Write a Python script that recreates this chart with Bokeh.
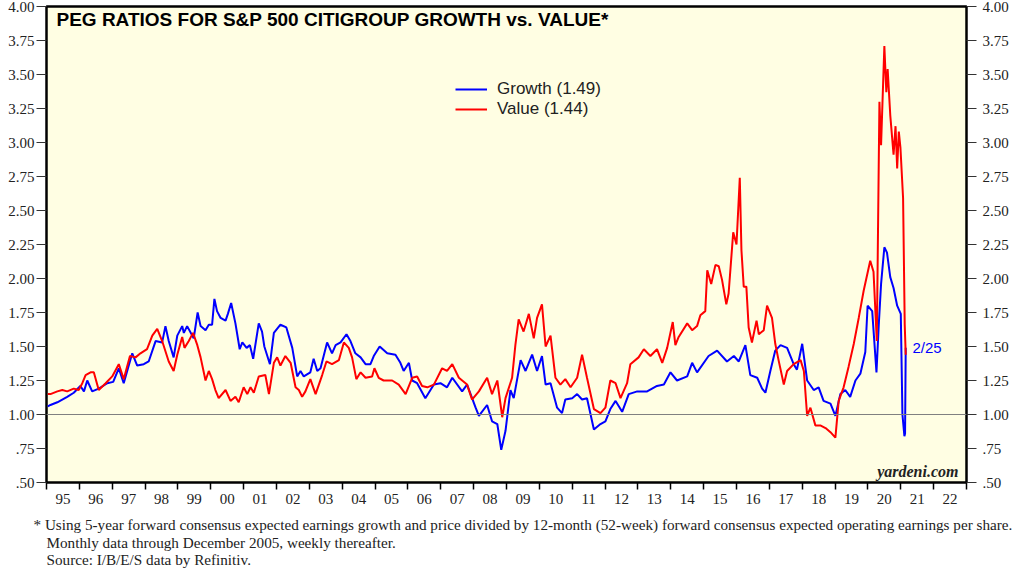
from bokeh.plotting import figure
from bokeh.models import FixedTicker, LinearAxis, Range1d, Span, Label, Legend, LegendItem, Title
from bokeh.embed import file_html
from bokeh.resources import INLINE

# ---------------- data ----------------
years = list(range(1995, 2023))
year_labels = ["95", "96", "97", "98", "99", "00", "01", "02", "03", "04", "05", "06", "07", "08",
               "09", "10", "11", "12", "13", "14", "15", "16", "17", "18", "19", "20", "21", "22"]
y_ticks = [0.5, 0.75, 1.0, 1.25, 1.5, 1.75, 2.0, 2.25, 2.5, 2.75, 3.0, 3.25, 3.5, 3.75, 4.0]
y_tick_labels = [".50", ".75", "1.00", "1.25", "1.50", "1.75", "2.00", "2.25", "2.50", "2.75",
                 "3.00", "3.25", "3.50", "3.75", "4.00"]

growth_date = [
    1995.04, 1995.12, 1995.33, 1995.63, 1995.83, 1996.03, 1996.14, 1996.24, 1996.39, 1996.59,
    1996.85, 1997.03, 1997.20, 1997.35, 1997.61, 1997.76, 1997.96, 1998.11, 1998.32, 1998.52,
    1998.62, 1998.72, 1998.87, 1998.98, 1999.13, 1999.18, 1999.28, 1999.48, 1999.60, 1999.69,
    1999.84, 1999.94, 2000.04, 2000.11, 2000.19, 2000.30, 2000.45, 2000.52, 2000.62, 2000.75,
    2000.88, 2000.96, 2001.09, 2001.19, 2001.29, 2001.46, 2001.56, 2001.63, 2001.80, 2001.92,
    2002.12, 2002.30, 2002.48, 2002.63, 2002.73, 2002.83, 2003.03, 2003.13, 2003.24, 2003.34,
    2003.54, 2003.69, 2003.80, 2003.95, 2004.13, 2004.25, 2004.40, 2004.56, 2004.71, 2004.86,
    2004.96, 2005.14, 2005.37, 2005.62, 2005.77, 2005.87, 2006.03, 2006.13, 2006.28, 2006.53,
    2006.79, 2006.99, 2007.19, 2007.35, 2007.65, 2007.80, 2008.06, 2008.16, 2008.41, 2008.56,
    2008.72, 2008.84, 2008.97, 2009.12, 2009.22, 2009.43, 2009.58, 2009.78, 2009.93, 2010.08,
    2010.19, 2010.34, 2010.54, 2010.69, 2010.79, 2011.00, 2011.15, 2011.30, 2011.45, 2011.66,
    2011.86, 2012.01, 2012.16, 2012.32, 2012.52, 2012.72, 2012.98, 2013.28, 2013.58, 2013.79,
    2013.99, 2014.19, 2014.50, 2014.65, 2014.80, 2015.15, 2015.41, 2015.71, 2015.92, 2016.07,
    2016.27, 2016.42, 2016.63, 2016.78, 2016.88, 2017.03, 2017.18, 2017.34, 2017.54, 2017.74,
    2017.84, 2018.00, 2018.15, 2018.35, 2018.50, 2018.65, 2018.86, 2019.01, 2019.16, 2019.31,
    2019.46, 2019.62, 2019.77, 2019.92, 2019.99, 2020.13, 2020.26, 2020.33, 2020.40, 2020.50,
    2020.58, 2020.68, 2020.78, 2020.89, 2021.00, 2021.05, 2021.11, 2021.13, 2021.15,
]
growth_peg = [
    1.06, 1.07, 1.09, 1.13, 1.16, 1.21, 1.17, 1.25, 1.17, 1.19,
    1.23, 1.24, 1.34, 1.23, 1.45, 1.36, 1.37, 1.39, 1.54, 1.53,
    1.65, 1.54, 1.42, 1.58, 1.65, 1.60, 1.65, 1.56, 1.75, 1.65,
    1.62, 1.66, 1.66, 1.85, 1.76, 1.71, 1.69, 1.74, 1.82, 1.67,
    1.48, 1.53, 1.49, 1.51, 1.41, 1.67, 1.61, 1.50, 1.37, 1.60,
    1.66, 1.64, 1.49, 1.28, 1.32, 1.28, 1.31, 1.41, 1.32, 1.34,
    1.53, 1.45, 1.51, 1.53, 1.59, 1.54, 1.45, 1.42, 1.37, 1.37,
    1.43, 1.50, 1.45, 1.44, 1.38, 1.32, 1.38, 1.25, 1.23, 1.12,
    1.22, 1.23, 1.20, 1.27, 1.17, 1.22, 1.05, 0.99, 1.07, 0.95,
    0.93, 0.74, 0.88, 1.18, 1.12, 1.40, 1.32, 1.44, 1.32, 1.43,
    1.22, 1.23, 1.05, 1.01, 1.11, 1.12, 1.15, 1.11, 1.12, 0.89,
    0.93, 0.95, 1.04, 1.10, 1.02, 1.15, 1.17, 1.17, 1.21, 1.22,
    1.31, 1.25, 1.28, 1.38, 1.31, 1.43, 1.47, 1.39, 1.43, 1.39,
    1.51, 1.29, 1.27, 1.19, 1.16, 1.32, 1.47, 1.51, 1.49, 1.37,
    1.33, 1.52, 1.25, 1.18, 1.20, 1.10, 1.08, 0.99, 1.15, 1.18,
    1.13, 1.25, 1.30, 1.46, 1.80, 1.76, 1.31, 1.66, 1.96, 2.23,
    2.19, 2.01, 1.93, 1.80, 1.74, 1.00, 0.84, 0.86, 1.49,
]

value_date = [
    1995.04, 1995.12, 1995.33, 1995.48, 1995.63, 1995.83, 1995.98, 1996.09, 1996.19, 1996.34,
    1996.44, 1996.59, 1996.80, 1997.00, 1997.20, 1997.35, 1997.54, 1997.71, 1997.86, 1998.06,
    1998.22, 1998.37, 1998.52, 1998.72, 1998.87, 1998.98, 1999.13, 1999.20, 1999.33, 1999.46,
    1999.59, 1999.69, 1999.84, 1999.94, 2000.04, 2000.14, 2000.24, 2000.45, 2000.60, 2000.75,
    2000.85, 2001.00, 2001.11, 2001.21, 2001.31, 2001.46, 2001.66, 2001.77, 2001.92, 2002.02,
    2002.12, 2002.27, 2002.43, 2002.58, 2002.68, 2002.78, 2002.88, 2003.03, 2003.19, 2003.39,
    2003.52, 2003.69, 2003.90, 2004.05, 2004.20, 2004.30, 2004.43, 2004.56, 2004.71, 2004.91,
    2004.98, 2005.11, 2005.26, 2005.52, 2005.72, 2005.93, 2006.13, 2006.28, 2006.43, 2006.59,
    2006.79, 2007.04, 2007.19, 2007.35, 2007.55, 2007.80, 2007.95, 2008.16, 2008.41, 2008.56,
    2008.72, 2008.87, 2008.97, 2009.17, 2009.27, 2009.37, 2009.52, 2009.68, 2009.83, 2009.93,
    2010.08, 2010.19, 2010.34, 2010.49, 2010.64, 2010.79, 2010.95, 2011.15, 2011.30, 2011.45,
    2011.66, 2011.86, 2012.01, 2012.16, 2012.32, 2012.47, 2012.67, 2012.77, 2013.02, 2013.18,
    2013.38, 2013.58, 2013.74, 2013.89, 2014.06, 2014.14, 2014.24, 2014.50, 2014.65, 2014.80,
    2014.90, 2015.05, 2015.11, 2015.23, 2015.36, 2015.46, 2015.56, 2015.69, 2015.76, 2015.90,
    2016.00, 2016.10, 2016.15, 2016.22, 2016.30, 2016.37, 2016.47, 2016.61, 2016.68, 2016.83,
    2016.93, 2017.08, 2017.18, 2017.28, 2017.44, 2017.54, 2017.74, 2017.95, 2018.05, 2018.15,
    2018.25, 2018.40, 2018.55, 2018.71, 2018.86, 2019.01, 2019.11, 2019.26, 2019.41, 2019.57,
    2019.72, 2019.87, 2020.07, 2020.17, 2020.27, 2020.35, 2020.40, 2020.50, 2020.56, 2020.60,
    2020.68, 2020.78, 2020.84, 2020.89, 2020.94, 2020.99, 2021.07, 2021.12, 2021.15,
]
value_peg = [
    1.15, 1.15, 1.17, 1.18, 1.17, 1.19, 1.18, 1.23, 1.29, 1.31,
    1.31, 1.18, 1.23, 1.28, 1.37, 1.26, 1.43, 1.42, 1.45, 1.48,
    1.58, 1.63, 1.54, 1.39, 1.32, 1.44, 1.57, 1.49, 1.54, 1.60,
    1.51, 1.42, 1.25, 1.32, 1.26, 1.18, 1.12, 1.18, 1.10, 1.13,
    1.09, 1.20, 1.15, 1.20, 1.16, 1.28, 1.29, 1.15, 1.38, 1.42,
    1.36, 1.43, 1.38, 1.20, 1.18, 1.13, 1.17, 1.26, 1.15, 1.29,
    1.39, 1.37, 1.40, 1.53, 1.49, 1.42, 1.26, 1.31, 1.27, 1.28,
    1.34, 1.27, 1.25, 1.25, 1.22, 1.15, 1.27, 1.28, 1.21, 1.20,
    1.22, 1.34, 1.32, 1.37, 1.27, 1.22, 1.11, 1.17, 1.27, 1.15,
    1.25, 0.98, 1.12, 1.27, 1.51, 1.70, 1.61, 1.74, 1.56, 1.71,
    1.81, 1.50, 1.58, 1.27, 1.22, 1.26, 1.20, 1.27, 1.44, 1.27,
    1.04, 1.01, 1.05, 1.25, 1.23, 1.12, 1.23, 1.37, 1.42, 1.48,
    1.43, 1.48, 1.38, 1.49, 1.68, 1.51, 1.57, 1.67, 1.62, 1.65,
    1.73, 1.76, 2.06, 1.96, 2.10, 2.09, 1.99, 1.81, 1.89, 2.34,
    2.25, 2.74, 2.21, 1.94, 1.94, 1.64, 1.53, 1.69, 1.59, 1.62,
    1.80, 1.71, 1.52, 1.40, 1.22, 1.32, 1.37, 1.40, 1.32, 0.99,
    1.05, 0.92, 0.92, 0.90, 0.87, 0.83, 1.10, 1.20, 1.35, 1.52,
    1.71, 1.91, 2.13, 2.05, 1.54, 3.30, 2.98, 3.71, 3.37, 3.54,
    3.20, 2.91, 3.12, 2.81, 3.08, 2.96, 2.59, 1.66, 1.44,
]

title_text = "PEG RATIOS FOR S&P 500 CITIGROUP GROWTH vs. VALUE*"
legend_labels = ["Growth (1.49)", "Value (1.44)"]
last_date_label = "2/25"
footnotes = [
    "*  Using 5-year forward consensus expected earnings growth and price divided by 12-month (52-week) forward consensus expected operating earnings per share.",
    "Monthly data through December 2005, weekly thereafter.",
    "Source: I/B/E/S data by Refinitiv.",
]

# ---------------- figure ----------------
SERIF = "Liberation Serif"
SANS = "Liberation Sans"

p = figure(width=1024, height=585,
           x_range=Range1d(1995, 2023), y_range=Range1d(0.5, 4.0),
           output_backend="svg", toolbar_location=None,
           min_border_left=46, min_border_right=58, min_border_top=6, min_border_bottom=103,
           background_fill_color="#FFFEE3", border_fill_color="white",
           outline_line_color="black", outline_line_width=2.5)
p.xgrid.visible = False
p.ygrid.visible = False

# bottom axis: labels centered between year-boundary ticks
xa = p.xaxis[0]
xa.ticker = FixedTicker(ticks=[y + 0.5 for y in years], minor_ticks=years + [2023])
xa.major_label_overrides = {y + 0.5: lab for y, lab in zip(years, year_labels)}
xa.major_tick_out = 0
xa.major_tick_in = 0
xa.minor_tick_out = 7
xa.minor_tick_in = 0
xa.minor_tick_line_color = "black"
xa.minor_tick_line_width = 1.5
xa.axis_line_color = None
xa.major_label_standoff = 4
xa.major_label_text_font = SERIF
xa.major_label_text_font_size = "15px"
xa.major_label_text_color = "#222222"

def style_y(ax, standoff):
    ax.ticker = FixedTicker(ticks=y_ticks)
    ax.major_label_overrides = {t: lab for t, lab in zip(y_ticks, y_tick_labels)}
    ax.major_tick_out = 10
    ax.major_tick_in = 0
    ax.major_tick_line_color = "#333333"
    ax.minor_tick_line_color = None
    ax.axis_line_color = None
    ax.major_label_standoff = standoff
    ax.major_label_text_font = SERIF
    ax.major_label_text_font_size = "15px"
    ax.major_label_text_color = "#222222"

style_y(p.yaxis[0], 2)
ra = LinearAxis()
style_y(ra, 6)
p.add_layout(ra, "right")

p.add_layout(Span(location=1.0, dimension="width", line_color="#808080", line_width=1.2))

r_g = p.line(growth_date, growth_peg, line_color="#0000FF", line_width=2)
r_v = p.line(value_date, value_peg, line_color="#FF0000", line_width=2)

legend = Legend(items=[LegendItem(label=legend_labels[0], renderers=[r_g]),
                       LegendItem(label=legend_labels[1], renderers=[r_v])],
                location=(409, 363), background_fill_alpha=0, border_line_color=None,
                label_text_font=SANS, label_text_font_size="17px", label_text_color="#222222",
                glyph_width=32, glyph_height=20, label_height=20, label_standoff=10,
                spacing=0, padding=0, margin=0)
p.add_layout(legend)

p.add_layout(Label(x=10, y=463, x_units="screen", y_units="screen", text=title_text,
                   text_font=SANS, text_font_style="bold", text_font_size="19px",
                   text_baseline="middle", text_color="black"))
p.add_layout(Label(x=866, y=135, x_units="screen", y_units="screen", text=last_date_label,
                   text_font=SANS, text_font_size="15px", text_baseline="middle",
                   text_color="#0000FF"))
p.add_layout(Label(x=912, y=11, x_units="screen", y_units="screen", text="yardeni.com",
                   text_font=SERIF, text_font_style="bold italic", text_font_size="16px",
                   text_baseline="middle", text_align="right", text_color="#222222"))

# footnotes below the chart (first one carries a short blank lead line for spacing)
for i, line in enumerate(footnotes):
    p.add_layout(Title(text=("\n" + line if i == 0 else line), align="left",
                       offset=(-13 if i == 0 else 0),
                       text_font=SERIF, text_font_style="normal", text_font_size="15.2px",
                       text_color="#222222", standoff=-2,
                       text_line_height=(0.53 if i == 0 else 1.0)), "below")

open("out.html", "w").write(file_html(p, INLINE))
